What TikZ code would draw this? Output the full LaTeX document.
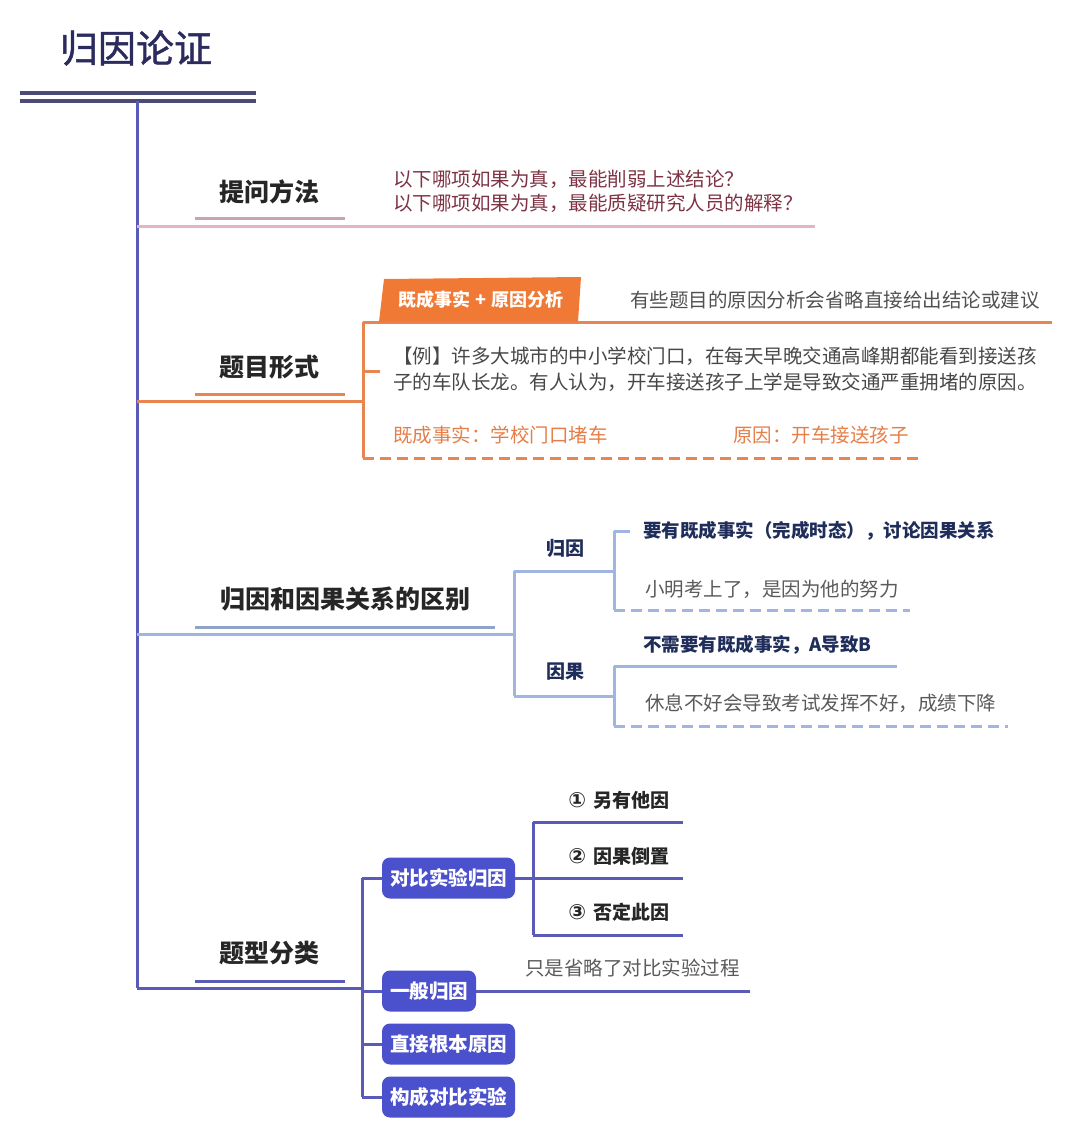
\documentclass[tikz,border=0pt]{standalone}
\usepackage{fontspec}
\setmainfont{Noto Sans CJK SC}
\usetikzlibrary{calc}
\definecolor{navy}{HTML}{2B2B5E}
\definecolor{trunkc}{HTML}{5A5AB8}
\definecolor{pinkl}{HTML}{E3B5C3}
\definecolor{pinkt}{HTML}{7E3344}
\definecolor{orangel}{HTML}{E9854F}
\definecolor{orangef}{HTML}{F07A35}
\definecolor{oranget}{HTML}{E57E48}
\definecolor{bluel}{HTML}{A0B6E0}
\definecolor{bluet}{HTML}{1F2D5A}
\definecolor{purp}{HTML}{4B50CC}
\definecolor{grayt}{HTML}{5A5A5A}
\definecolor{darkt}{HTML}{262626}
\newcommand{\fs}[1]{\fontsize{#1}{#1}\selectfont}
\begin{document}
\begin{tikzpicture}[x=1pt,y=-1pt,
  every node/.style={inner sep=0pt, outer sep=0pt},
  lbl/.style={font=\fs{25}\bfseries, text=darkt},
  hand/.style={font=\fs{19.5}, text=grayt, anchor=west},
  br/.style={line width=3pt},
  pk/.style={br, draw=pinkl},
  og/.style={br, draw=orangel},
  bl/.style={br, draw=bluel},
  pu/.style={br, draw=trunkc},
  dsh/.style={dash pattern=on 11pt off 6pt},
  box/.style={fill=purp, rounded corners=8pt, minimum height=41pt, inner xsep=8pt, text=white, font=\fs{19.5}\bfseries, anchor=west},
  sub/.style={font=\fs{19}\bfseries, text=bluet},
]
\useasboundingbox (0,0) rectangle (1080,1146);

% title
\node[font=\fs{38}\addfontfeatures{FakeBold=1.2}, text=navy, anchor=west] (title) at (60,48) {归因论证};
\coordinate (dl1) at (20,93); \coordinate (dr1) at (256,93);
\coordinate (dl2) at (20,101); \coordinate (dr2) at (256,101);
\draw[line width=3.5pt, draw=navy!85] (dl1) -- (dr1);
\draw[line width=3.5pt, draw=navy!85] (dl2) -- (dr2);
\coordinate (trunkTop) at (137,101);
\coordinate (trunkBot) at (137,988);
\draw[pu] (trunkTop) -- (trunkBot);

% branch 1
\coordinate (b1s) at (137,226); \coordinate (b1e) at (815,226);
\draw[pk] (b1s) -- (b1e);
\coordinate (u1s) at (195,218); \coordinate (u1e) at (345,218);
\draw[line width=3pt, draw=pinkl!90!black] (u1s) -- (u1e);
\node[lbl] (q) at (269,192) {提问方法};
\node[hand, text=pinkt] (q1) at (393,179) {以下哪项如果为真，最能削弱上述结论？};
\node[hand, text=pinkt] (q2) at (393,203) {以下哪项如果为真，最能质疑研究人员的解释？};

% branch 2
\coordinate (b2s) at (137,401); \coordinate (b2e) at (363,401);
\draw[og] (b2s) -- (b2e);
\coordinate (u2s) at (195,394); \coordinate (u2e) at (345,394);
\draw[og] (u2s) -- (u2e);
\node[lbl] (form) at (269,367) {题目形式};
\coordinate (v2t) at (363,322); \coordinate (v2b) at (363,458);
\draw[og] (v2t) -- (v2b);
\coordinate (top2e) at (1052,322);
\draw[og] (v2t) -- (top2e);
\coordinate (tk2) at (363,371); \coordinate (tk2e) at (380,371);
\draw[og] (tk2) -- (tk2e);
\coordinate (d2e) at (920,458);
\draw[og, dsh] (v2b) -- (d2e);
\fill[orangef] (384,279) -- (581,277) -- (578,322) -- (379,322) -- cycle;
\node[font=\fs{18}\bfseries, text=white] (tab) at (481,300) {既成事实\hspace{5pt}+\hspace{5pt}原因分析};
\node[hand, text=darkt!80] (note) at (630,300) {有些题目的原因分析会省略直接给出结论或建议};
\node[hand, text=darkt!85] (ex1) at (393,356) {【例】许多大城市的中小学校门口，在每天早晚交通高峰期都能看到接送孩};
\node[hand, text=darkt!85] (ex2) at (393,382) {子的车队长龙。有人认为，开车接送孩子上学是导致交通严重拥堵的原因。};
\node[hand, text=oranget] (f1) at (393,435) {既成事实：学校门口堵车};
\node[hand, text=oranget] (f2) at (733,435) {原因：开车接送孩子};

% branch 3
\coordinate (b3s) at (137,634); \coordinate (b3e) at (514,634);
\draw[bl] (b3s) -- (b3e);
\coordinate (u3s) at (195,627); \coordinate (u3e) at (495,627);
\draw[line width=3pt, draw=bluel!90!black] (u3s) -- (u3e);
\node[lbl] (diff) at (345,599) {归因和因果关系的区别};
\coordinate (v3t) at (514,571); \coordinate (v3b) at (514,696);
\draw[bl] (v3t) -- (v3b);
\coordinate (g1) at (614,571); \coordinate (g2) at (614,696);
\draw[bl] (v3t) -- (g1);
\draw[bl] (v3b) -- (g2);
\node[sub] (gy) at (565,548) {归因};
\node[sub] (yg) at (565,672) {因果};
\coordinate (a1t) at (614,531); \coordinate (a1b) at (614,610);
\draw[bl] (a1t) -- (a1b);
\coordinate (a1k) at (630,531);
\draw[bl] (a1t) -- (a1k);
\node[font=\fs{18.5}\bfseries, text=bluet, anchor=west] (a1txt) at (643,531) {要有既成事实（完成时态），讨论因果关系};
\node[hand] (a1ex) at (645,589) {小明考上了，是因为他的努力};
\coordinate (a1d) at (910,610);
\draw[bl, dsh] (a1b) -- (a1d);
\coordinate (a2t) at (614,666); \coordinate (a2b) at (614,726);
\draw[bl] (a2t) -- (a2b);
\coordinate (a2k) at (897,666);
\draw[bl] (a2t) -- (a2k);
\node[font=\fs{18.5}\bfseries, text=bluet, anchor=west] (a2txt) at (643,645) {不需要有既成事实，A导致B};
\node[hand] (a2ex) at (645,703) {休息不好会导致考试发挥不好，成绩下降};
\coordinate (a2d) at (1008,726);
\draw[bl, dsh] (a2b) -- (a2d);

% branch 4
\coordinate (b4e) at (362,988);
\draw[pu] (trunkBot) -- (b4e);
\coordinate (u4s) at (195,981); \coordinate (u4e) at (345,981);
\draw[pu] (u4s) -- (u4e);
\node[lbl] (types) at (269,953) {题型分类};
\coordinate (v4t) at (362,878); \coordinate (v4b) at (362,1097);
\draw[pu] (v4t) -- (v4b);
\node[box] (k1) at (382,878) {对比实验归因};
\node[box] (k2) at (382,991) {一般归因};
\node[box] (k3) at (382,1044) {直接根本原因};
\node[box] (k4) at (382,1097) {构成对比实验};
\draw[pu] (v4t) -- (k1.west);
\coordinate (j2) at (362,991); \draw[pu] (j2) -- (k2.west);
\coordinate (j3) at (362,1044); \draw[pu] (j3) -- (k3.west);
\draw[pu] (v4b) -- (k4.west);
\coordinate (c1) at (533,878);
\draw[pu] (k1.east) -- (c1);
\coordinate (c1t) at (533,822); \coordinate (c1b) at (533,935);
\draw[pu] (c1t) -- (c1b);
\coordinate (c1te) at (683,822); \coordinate (c1me) at (683,878); \coordinate (c1be) at (683,935);
\draw[pu] (c1t) -- (c1te);
\draw[pu] (c1) -- (c1me);
\draw[pu] (c1b) -- (c1be);
\node[font=\fs{19}\bfseries, text=darkt] (r1) at (619,800) {\fontspec{DejaVu Sans}\fontsize{21}{21}\selectfont①\ \fontspec{Noto Sans CJK SC}\fs{19}\bfseries 另有他因};
\node[font=\fs{19}\bfseries, text=darkt] (r2) at (619,856) {\fontspec{DejaVu Sans}\fontsize{21}{21}\selectfont②\ \fontspec{Noto Sans CJK SC}\fs{19}\bfseries 因果倒置};
\node[font=\fs{19}\bfseries, text=darkt] (r3) at (619,912) {\fontspec{DejaVu Sans}\fontsize{21}{21}\selectfont③\ \fontspec{Noto Sans CJK SC}\fs{19}\bfseries 否定此因};
\coordinate (k2e) at (750,991);
\draw[pu] (k2.east) -- (k2e);
\node[hand] (k2n) at (525,968) {只是省略了对比实验过程};
\end{tikzpicture}
\end{document}
